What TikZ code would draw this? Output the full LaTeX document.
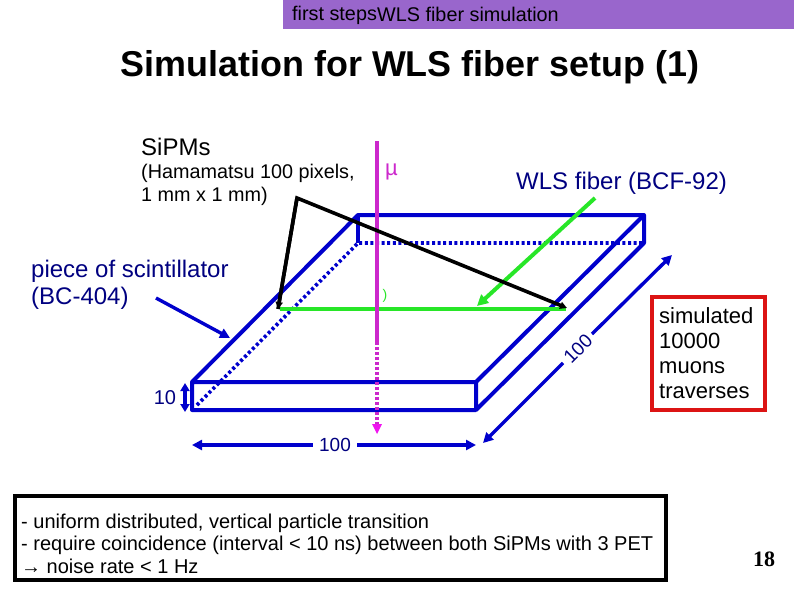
\documentclass[tikz,border=0pt]{standalone}
\usepackage{fontspec}
\setmainfont{Liberation Sans}
\newfontfamily\serifb{Liberation Serif}
\usetikzlibrary{arrows.meta}
\definecolor{bl}{RGB}{0,0,204}
\definecolor{navy}{RGB}{0,0,128}
\definecolor{grn}{RGB}{40,230,40}
\definecolor{mag}{RGB}{204,40,204}
\definecolor{mgt}{RGB}{240,20,240}
\definecolor{pur}{RGB}{153,102,204}
\definecolor{red2}{RGB}{220,20,20}
\tikzset{
  box/.style={draw=bl,line width=4pt},
  dot/.style={draw=bl,line width=3.6pt,dash pattern=on 3pt off 2.6pt},
  dim/.style={draw=bl,line width=3.4pt,-{Triangle[length=10pt,width=10pt]}},
  txt/.style={inner sep=0pt,anchor=west,align=left},
  tip/.style={-{Triangle[length=7pt,width=7pt]}}
}
\newcommand{\fs}[2]{\fontsize{#1pt}{#2pt}\selectfont}
\begin{document}
\begin{tikzpicture}[x=1pt,y=-1pt]
\useasboundingbox (0,0) rectangle (794,595);
\fill[pur] (283,0) rectangle (794,29);
\node[txt] (h1) at (292,15) {\fs{19.8}{22}first steps};
\node[txt] (h2) at (377,14) {\fs{19.8}{22}WLS fiber simulation};
\node[inner sep=0pt] (title) at (410,67) {\fs{35.9}{40}\bfseries Simulation for WLS fiber setup (1)};
\node[txt] (sipm) at (141,147) {\fs{24}{27}SiPMs};
\node[txt] (ham) at (141,185) {\fs{19.8}{23}\begin{tabular}{@{}l@{}}(Hamamatsu 100 pixels,\\1 mm x 1 mm)\end{tabular}};
\node[txt,text=navy] (wls) at (516,183) {\fs{24}{27}WLS fiber (BCF-92)};
\node[txt,text=navy] (pie) at (31,286) {\fs{24}{27}\begin{tabular}{@{}l@{}}piece of scintillator\\(BC-404)\end{tabular}};
\coordinate (pa) at (156,298); \coordinate (pb) at (230,338);
\draw[dim] (pa) -- (pb);
% box
\coordinate (ftl) at (192,382); \coordinate (ftr) at (476,382);
\coordinate (fbl) at (192,410); \coordinate (fbr) at (476,410);
\coordinate (btl) at (358,215); \coordinate (btr) at (644,215);
\coordinate (bbl) at (358,243); \coordinate (bbr) at (644,243);
\draw[dot] (197,405) -- (bbl) -- (bbr);
\draw[box,line join=round] (fbr) -- (fbl) -- (ftl) -- (ftr) -- (fbr) -- (bbr) -- (btr) -- (btl) -- (ftl);
\draw[box] (ftr) -- (btr);
\draw[box] (btl) -- (bbl);
% fiber
\coordinate (fa) at (280,309); \coordinate (fb) at (566,309);
\draw[draw=grn,line width=4pt] (fa) -- (fb);
\coordinate (ga) at (595,198); \coordinate (gb) at (477,306);
\draw[draw=grn,line width=4pt,-{Triangle[length=11pt,width=11pt]}] (ga) -- (gb);
% muon
\coordinate (ma) at (377,141); \coordinate (mb) at (377,342); \coordinate (mc) at (377,434);
\draw[mag,line width=4pt] (ma) -- (mb);
\draw[mag,line width=4pt,dash pattern=on 3pt off 2pt] (mb) -- (377,424);
\fill[mgt] (372,424) -- (382,424) -- (377,434) -- cycle;
\node[txt,text=mag] (mu) at (385,172) {\fs{22}{24}µ};
\node[inner sep=0pt,text=grn] (arc) at (385,296) {\fs{14}{16})};
% black arrows
\coordinate (ba) at (297,198); \coordinate (bb) at (278,309); \coordinate (bc) at (567,308);
\draw[black,line width=3.6pt,tip,line join=miter] (bb) -- (ba) -- (bc);
\draw[black,line width=3.6pt,tip] (ba) -- (bb);
% dimensions
\node[inner sep=0pt,text=navy] (d10) at (165,398) {\fs{20}{22}10};
\coordinate (da) at (185,383); \coordinate (db) at (185,412);
\draw[draw=bl,line width=3.4pt,{Triangle[length=8pt,width=9pt]}-{Triangle[length=8pt,width=9pt]}] (da) -- (db);
\node[inner sep=0pt,text=navy] (d100) at (335,445) {\fs{19}{22}100};
\coordinate (ea) at (192,445); \coordinate (eb) at (476,445);
\draw[dim] (d100.west) ++(-6,0) -- (ea);
\draw[dim] (d100.east) ++(6,0) -- (eb);
\node[inner sep=0pt,text=navy,rotate=45] (r100) at (578,349) {\fs{19}{22}100};
\coordinate (ra) at (483,443); \coordinate (rb) at (672,255);
\draw[dim] (563,363) -- (ra);
\draw[dim] (592,334) -- (rb);
% boxes
\node[draw=red2,line width=4pt,rectangle,minimum width=113pt,minimum height=113pt,inner sep=0pt] (rbox) at (708.5,353.5) {};
\node[txt] (rtxt) at (659,356) {\fs{22}{25}\begin{tabular}{@{}l@{}}simulated\\10000\\muons\\traverses\end{tabular}};
\node[draw=black,line width=4pt,rectangle,minimum width=651pt,minimum height=84pt,inner sep=0pt] (kbox) at (340,538) {};
\node[txt] (ktxt) at (21,546) {\fs{20}{22.5}\begin{tabular}{@{}l@{}}- uniform distributed, vertical particle transition\\- require coincidence (interval < 10 ns) between both SiPMs with 3 PET\\→ noise rate < 1 Hz\end{tabular}};
\node[inner sep=0pt] (pg) at (764,559) {\fs{22}{24}\serifb\bfseries 18};
\end{tikzpicture}
\end{document}
